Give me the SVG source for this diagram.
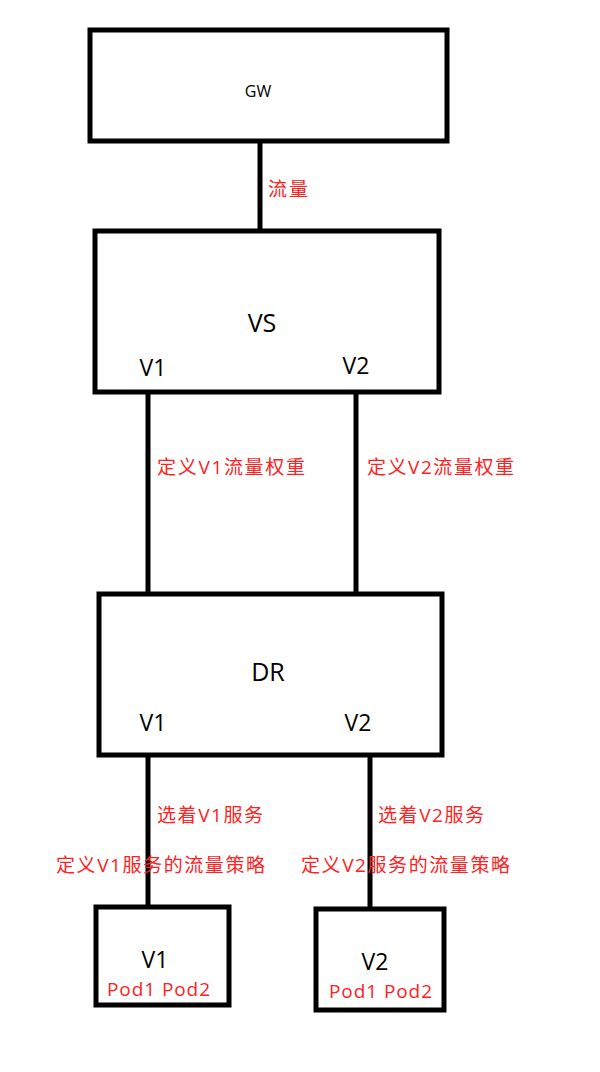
<svg xmlns="http://www.w3.org/2000/svg" width="600" height="1072" viewBox="0 0 600 1072">
<style>
.b{fill:#fff;stroke:#000;stroke-width:5}
.l{stroke:#000;stroke-width:5}
.t{font-family:"Open Sans","Noto Sans",sans-serif;fill:#000;text-anchor:middle}
.r{font-family:"Open Sans","Noto Sans","Noto Sans CJK SC",sans-serif;fill:#f22;font-size:19px}
</style>
<rect width="600" height="1072" fill="#fff"/>
<g id="connectors">
<line class="l" x1="260" y1="141" x2="260" y2="230"/>
<line class="l" x1="148" y1="392" x2="148" y2="593"/>
<line class="l" x1="356" y1="392" x2="356" y2="593"/>
<line class="l" x1="148" y1="755" x2="148" y2="907"/>
<line class="l" x1="370" y1="755" x2="370" y2="909"/>
<text class="r" x="268" y="196" textLength="40">流量</text>
<text class="r" x="157" y="474" textLength="148">定义V1流量权重</text>
<text class="r" x="367" y="474" textLength="147">定义V2流量权重</text>
<text class="r" x="157" y="822" textLength="106">选着V1服务</text>
<text class="r" x="56" y="872" textLength="209">定义V1服务的流量策略</text>
<text class="r" x="378" y="822" textLength="106">选着V2服务</text>
<text class="r" x="301" y="872" textLength="209">定义V2服务的流量策略</text>
</g>
<g id="gw"><rect class="b" x="90" y="30" width="357" height="111" stroke-width="4"/><text class="t" x="258" y="97" font-size="16">GW</text></g>
<g id="vs"><rect class="b" x="95" y="231" width="344" height="161"/><text class="t" x="262" y="332" font-size="25">VS</text><text class="t" x="153" y="376" font-size="23">V1</text><text class="t" x="356" y="374" font-size="23">V2</text></g>
<g id="dr"><rect class="b" x="99" y="594" width="343" height="161"/><text class="t" x="268" y="681" font-size="25">DR</text><text class="t" x="153" y="731" font-size="23">V1</text><text class="t" x="358" y="731" font-size="23">V2</text></g>
<g id="v1"><rect class="b" x="96" y="907" width="133" height="98"/><text class="t" x="155" y="968" font-size="23">V1</text><text class="r" x="107" y="996" textLength="103">Pod1 Pod2</text></g>
<g id="v2"><rect class="b" x="316" y="909" width="128" height="101"/><text class="t" x="375" y="970" font-size="23">V2</text><text class="r" x="329" y="998" textLength="103">Pod1 Pod2</text></g>
</svg>
